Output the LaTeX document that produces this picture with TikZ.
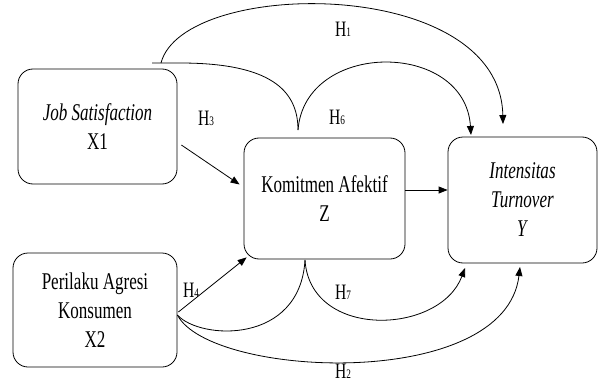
\documentclass[tikz,border=0pt]{standalone}
\usepackage{fontspec}
\setmainfont[FakeStretch=0.71]{Liberation Serif}
\usetikzlibrary{arrows.meta}

\newcommand{\hlab}[1]{H{\fontsize{13}{13}\selectfont #1}}

\tikzset{
  var/.style={draw, thick, rounded corners=15pt, align=center,
    font=\fontsize{24}{29}\selectfont, inner sep=0pt},
  hyplab/.style={font=\fontsize{22}{22}\selectfont, inner sep=0pt},
  arr/.style={-{Triangle[length=9pt,width=7pt]}},
}

\begin{document}
\begin{tikzpicture}[x=1pt, y=-1pt, line width=0.8pt]
      \useasboundingbox (0,0) rectangle (599,385);

      \node[var, minimum width=159pt, minimum height=115pt] (x1) at (97.5,126.5)
        {\textit{Job Satisfaction}\\X1};
      \node[var, minimum width=161pt, minimum height=121pt] (z) at (324.5,198.5)
        {Komitmen Afektif\\Z};
      \node[var, minimum width=149pt, minimum height=126pt] (y) at (522.5,200)
        {\textit{Intensitas}\\\textit{Turnover}\\\textit{Y}};
      \node[var, minimum width=164pt, minimum height=114pt] (x2) at (95,310)
        {Perilaku Agresi\\Konsumen\\X2};

      \coordinate (up0) at (152,63);
      \coordinate (up1) at (161,63);
      \coordinate (zt) at (298,130);
      \coordinate (zb) at (305,260);
      \coordinate (lo0) at ([shift={(0,5)}]x2.east);

      % direct paths
      \draw[arr]
        ([shift={(4,18.5)}]x1.east) -- ([shift={(-4,-14)}]z.west);
      \draw[arr]
        ([shift={(1,2)}]x2.east) -- ([shift={(3,-2)}]z.south west);
      \draw[arr]
        ([shift={(0,-8.5)}]z.east) -- ([shift={(0,-8.5)}]z.east -| y.west);

      % upper curves
      \draw (up0) -- (180,63) .. controls (270,63) and (298,90) .. (zt);
      \draw[arr] (up1) .. controls (183,-22) and (500,-25) .. (503,124);
      \draw[arr] (zt) .. controls (305,40) and (465,40) .. (471,135);

      % lower curves
      \draw (lo0) .. controls (200,340) and (300,345) .. (zb);
      \draw[arr] (zb) .. controls (310,340) and (440,335) .. (465,268);
      \draw[arr] (lo0) .. controls (210,378) and (505,392) .. (520,267);

      \node[hyplab] (h1) at (343,29) {\hlab{1}};
      \node[hyplab] (h3) at (206,118) {\hlab{3}};
      \node[hyplab] (h6) at (337,117) {\hlab{6}};
      \node[hyplab] (h4) at (191,290) {\hlab{4}};
      \node[hyplab] (h7) at (343,292) {\hlab{7}};
      \node[hyplab] (h2) at (343,371) {\hlab{2}};
\end{tikzpicture}
\end{document}
